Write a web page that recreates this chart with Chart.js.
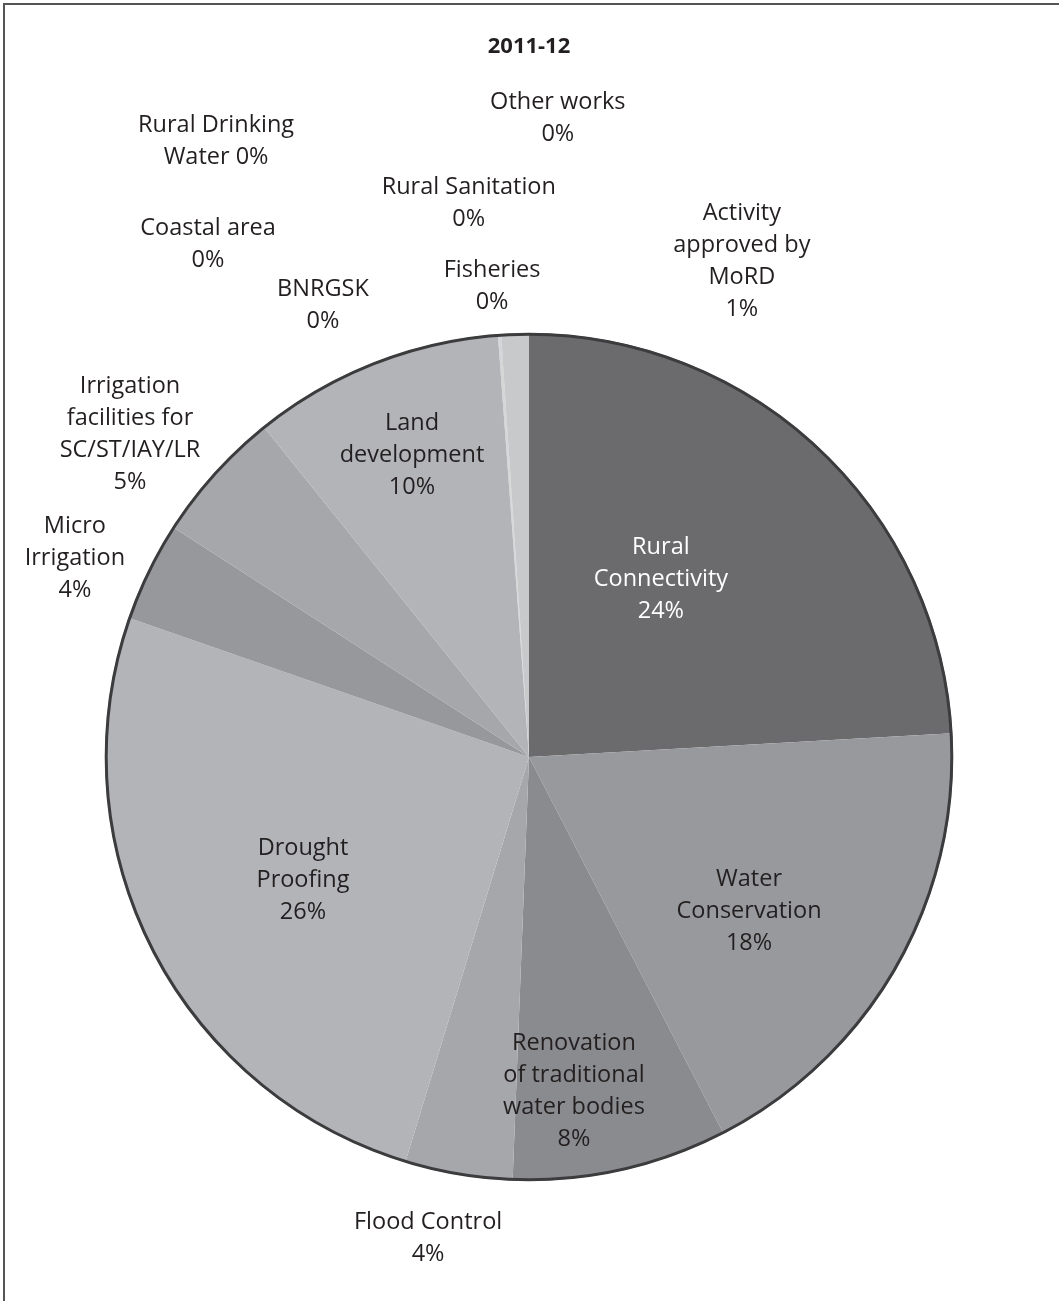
<!DOCTYPE html>
<html>
<head>
<meta charset="utf-8">
<script src="https://cdn.jsdelivr.net/npm/chart.js@4.4.1/dist/chart.umd.min.js"></script>
<style>
  html, body { margin: 0; padding: 0; background: #fff; }
  #wrap { position: relative; width: 1059px; height: 1301px; }
  #frame { position: absolute; left: 3px; top: 3px; right: 0; bottom: 0;
           border-left: 2px solid #555; border-top: 2px solid #555; pointer-events: none; }
</style>
</head>
<body>
<div id="wrap">
  <canvas id="grafica"></canvas>
  <div id="frame"></div>
</div>
<script>
// datos del grafico (porcentajes)
const categorias = [
  "Rural Connectivity",
  "Water Conservation",
  "Renovation of traditional water bodies",
  "Flood Control",
  "Drought Proofing",
  "Micro Irrigation",
  "Irrigation facilities for SC/ST/IAY/LR",
  "Land development",
  "BNRGSK",
  "Coastal area",
  "Rural Drinking Water",
  "Fisheries",
  "Rural Sanitation",
  "Other works",
  "Activity approved by MoRD",
];
const valores = [24.1, 18.3, 8.2, 4.1, 25.6, 3.8, 5.1, 9.6, 0.02, 0.02, 0.02, 0.02, 0.02, 0.02, 1.05];

// como se parte cada etiqueta en lineas ({p} = porcentaje)
const lineasEtiqueta = [
  ["Rural", "Connectivity", "{p}"],
  ["Water", "Conservation", "{p}"],
  ["Renovation", "of traditional", "water bodies", "{p}"],
  ["Flood Control", "{p}"],
  ["Drought", "Proofing", "{p}"],
  ["Micro", "Irrigation", "{p}"],
  ["Irrigation", "facilities for", "SC/ST/IAY/LR", "{p}"],
  ["Land", "development", "{p}"],
  ["BNRGSK", "{p}"],
  ["Coastal area", "{p}"],
  ["Rural Drinking", "Water {p}"],
  ["Fisheries", "{p}"],
  ["Rural Sanitation", "{p}"],
  ["Other works", "{p}"],
  ["Activity", "approved by", "MoRD", "{p}"],
];

// estilo
const colores = ["#6b6b6d", "#98999c", "#8a8b8e", "#a6a7aa", "#b3b4b7", "#97989b", "#a6a7aa",
  "#b3b4b7", "#c6c7c9", "#c6c7c9", "#c6c7c9", "#c6c7c9", "#c6c7c9", "#c6c7c9", "#c8c9cb"];
// centro de cada etiqueta, en radios, respecto al centro del pastel
const posEtiqueta = [
  [0.311, -0.420], [0.519, 0.363], [0.106, 0.788], [-0.238, 1.134], [-0.533, 0.290],
  [-1.071, -0.469], [-0.941, -0.762], [-0.276, -0.712], [-0.486, -1.066], [-0.757, -1.208],
  [-0.738, -1.453], [-0.087, -1.111], [-0.142, -1.307], [0.068, -1.507], [0.502, -1.170],
];
const FUENTE = "'Open Sans', sans-serif";

const total = valores.reduce((a, b) => a + b, 0);

const etiquetas = {
  id: "etiquetas",
  afterDatasetsDraw(chart) {
    const ctx = chart.ctx;
    const meta = chart.getDatasetMeta(0);
    const arc = meta.data[0];
    const cx = arc.x, cy = arc.y, r = arc.outerRadius;

    // borde exterior del pastel
    ctx.save();
    ctx.beginPath();
    ctx.arc(cx, cy, r - 1.2, 0, Math.PI * 2);
    ctx.lineWidth = 3;
    ctx.strokeStyle = "#3c3c3e";
    ctx.stroke();

    ctx.font = "23.5px " + FUENTE;
    ctx.textAlign = "center";
    ctx.textBaseline = "middle";
    const alto = 32;
    valores.forEach((v, i) => {
      const p = Math.round((v / total) * 100) + "%";
      const lineas = lineasEtiqueta[i].map((l) => l.replace("{p}", p));
      const x = cx + posEtiqueta[i][0] * r;
      const y0 = cy + posEtiqueta[i][1] * r - ((lineas.length - 1) * alto) / 2;
      ctx.fillStyle = i === 0 ? "#ffffff" : "#231f20";
      lineas.forEach((l, k) => ctx.fillText(l, x, y0 + k * alto));
    });
    ctx.restore();
  },
};

const ctx = document.getElementById("grafica");
new Chart(ctx, {
  type: "pie",
  data: {
    labels: categorias,
    datasets: [
      {
        data: valores,
        backgroundColor: colores,
        borderWidth: 0,
        hoverOffset: 0,
      },
    ],
  },
  options: {
    responsive: true,
    maintainAspectRatio: false,
    animation: false,
    layout: { padding: { left: 105, right: 106, top: 0, bottom: 120 } },
    plugins: {
      legend: { display: false },
      tooltip: { enabled: false },
      title: {
        display: true,
        text: "2011-12",
        color: "#231f20",
        font: { family: FUENTE, size: 22, weight: "bold", lineHeight: 1.2 },
        padding: { top: 34, bottom: 272.6 },
      },
    },
  },
  plugins: [etiquetas],
});
</script>
</body>
</html>
